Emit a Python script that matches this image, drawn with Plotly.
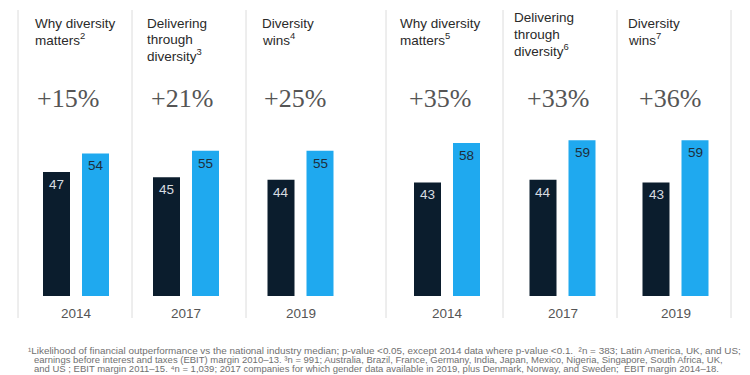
import plotly.graph_objects as go

# ---- data ----
years = ["2014", "2017", "2019", "2014", "2017", "2019"]
studies = [
    "Why diversity<br>matters<sup>2</sup>",
    "Delivering<br>through<br>diversity<sup>3</sup>",
    "Diversity<br>wins<sup>4</sup>",
    "Why diversity<br>matters<sup>5</sup>",
    "Delivering<br>through<br>diversity<sup>6</sup>",
    "Diversity<br>wins<sup>7</sup>",
]
uplift = ["+15%", "+21%", "+25%", "+35%", "+33%", "+36%"]
quartiles = ["Bottom quartile", "Top quartile"]
bottom_quartile = [47, 45, 44, 43, 44, 43]
top_quartile = [54, 55, 55, 58, 59, 59]
footnotes = [
    "¹Likelihood of financial outperformance vs the national industry median; p-value <0.05, except 2014 data where p-value <0.1.  ²n = 383; Latin America, UK, and US;",
    "earnings before interest and taxes (EBIT) margin 2010–13. ³n = 991; Australia, Brazil, France, Germany, India, Japan, Mexico, Nigeria, Singapore, South Africa, UK,",
    "and US ; EBIT margin 2011–15. ⁴n = 1,039; 2017 companies for which gender data available in 2019, plus Denmark, Norway, and Sweden;  EBIT margin 2014–18.",
]

W, H = 750, 375
OFF = 8  # page body margin offset
DARK = "#0B1D2D"
BLUE = "#1FA9EF"
SANS = "Liberation Sans, Arial, sans-serif"
SERIF = "Liberation Serif, Times New Roman, serif"

# layout geometry (pixels in the screenshot)
dark_centers = [56.5, 166.5, 281, 427.5, 543, 656]
pitch = 39.0
bar_w = 27.0
header_x = [33, 145, 260, 398, 512, 626]
header_top = [23, 23, 23, 23, 18, 23]
big_x = [68, 182, 295, 440, 558, 670]
separators = [18, 132, 246, 386, 503, 617, 731]
base_px = 296
px_per_unit = 2.64


def px(x):
    return (x - OFF) / W


def py(y):
    return 1 - (y - OFF) / H


fig = go.Figure()
annotations = []
layout = {}

for i in range(6):
    ax = "x" if i == 0 else f"x{i+1}"
    axname = "xaxis" if i == 0 else f"xaxis{i+1}"
    left = dark_centers[i] - pitch / 2
    right = dark_centers[i] + pitch * 1.5
    layout[axname] = dict(domain=[px(left), px(right)], anchor="y", showticklabels=False,
                          showgrid=False, zeroline=False, showline=False, ticks="",
                          type="category", range=[-0.5, 1.5], fixedrange=True)
    vals = [bottom_quartile[i], top_quartile[i]]
    fig.add_trace(go.Bar(x=quartiles, y=vals, xaxis=ax, yaxis="y",
                         marker=dict(color=[DARK, BLUE], line=dict(width=0)),
                         width=bar_w / pitch, showlegend=False, hoverinfo="skip"))
    for q, v, c in zip(quartiles, vals, ["#D8DCE0", "#1E2E3C"]):
        annotations.append(dict(x=q, y=v, xref=ax, yref="y", text=str(v), showarrow=False,
                                yanchor="top", yshift=-3,
                                font=dict(family=SANS, size=13.5, color=c)))
    # year label
    annotations.append(dict(x=0.5, y=py(313), xref=f"{ax} domain", yref="paper",
                            text=years[i], showarrow=False, xanchor="center", yanchor="middle",
                            font=dict(family=SANS, size=13.5, color="#555555")))
    # header lines
    lines = studies[i].split("<br>")
    for j, line in enumerate(lines):
        annotations.append(dict(x=px(header_x[i]), y=py(header_top[i] + 16 * j), xref="paper",
                                yref="paper", text=line, showarrow=False, xanchor="left",
                                yanchor="middle", font=dict(family=SANS, size=13.5, color="#2A2A2A")))
    # big uplift number
    annotations.append(dict(x=px(big_x[i]), y=py(98), xref="paper", yref="paper",
                            text=uplift[i], showarrow=False, xanchor="center", yanchor="middle",
                            font=dict(family=SERIF, size=26, color="#555555")))

# footnotes
foot_x = [27, 33, 33]
foot_y = [350, 359.5, 368.5]
foot_size = [9.9, 9.5, 9.5]
for t, xx, yy, fs in zip(footnotes, foot_x, foot_y, foot_size):
    annotations.append(dict(x=px(xx), y=py(yy), xref="paper", yref="paper", text=t,
                            showarrow=False, xanchor="left", yanchor="middle", borderpad=0,
                            font=dict(family=SANS, size=fs, color="#707070")))

shapes = [dict(type="line", xref="paper", yref="paper", x0=px(s), x1=px(s), y0=py(10), y1=py(318),
               line=dict(color="#DCDCDC", width=1)) for s in separators]

fig.update_layout(
    width=W, height=H,
    margin=dict(l=0, r=0, t=0, b=0),
    paper_bgcolor="white", plot_bgcolor="white",
    yaxis=dict(domain=[py(base_px), py(base_px) + 0.5], range=[0, 0.5 * H / px_per_unit],
               visible=False, fixedrange=True),
    annotations=annotations,
    shapes=shapes,
    barmode="group",
    **layout,
)

fig.write_html("out.html")
